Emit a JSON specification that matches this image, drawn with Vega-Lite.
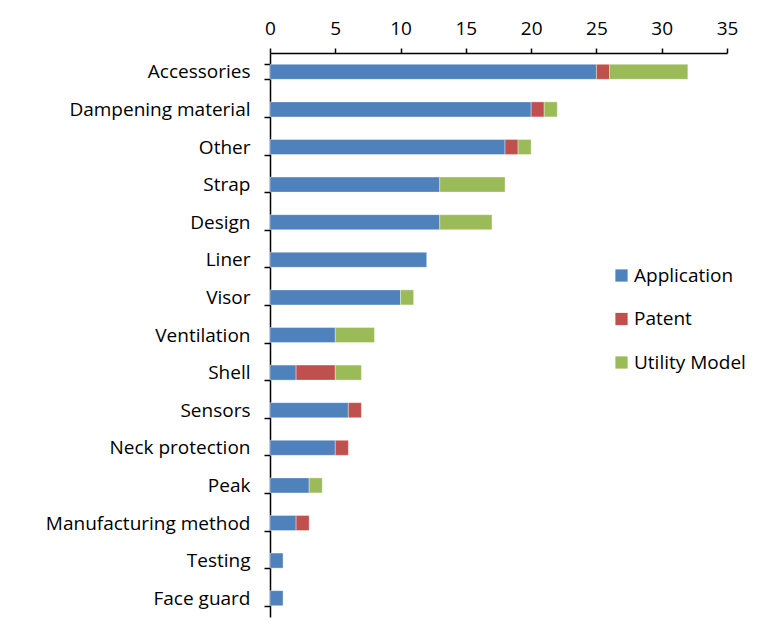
{
  "$schema": "https://vega.github.io/schema/vega-lite/v6.json",
  "width": 457,
  "height": 564,
  "autosize": {"type": "none"},
  "padding": {"left": 270, "top": 53, "right": 39, "bottom": 7},
  "background": "white",
  "config": {
    "view": {"stroke": null},
    "font": "Open Sans",
    "axis": {"labelFont": "Open Sans", "labelColor": "#000", "domainColor": "#000", "tickColor": "#000", "domainWidth": 1.5, "tickWidth": 1.5, "grid": false, "title": null, "labelLimit": 400},
    "legend": {"labelFont": "Open Sans", "labelLimit": 300}
  },
  "data": {
    "values": [
      {"category": "Accessories", "type": "Application", "count": 25},
      {"category": "Accessories", "type": "Patent", "count": 1},
      {"category": "Accessories", "type": "Utility Model", "count": 6},
      {"category": "Dampening material", "type": "Application", "count": 20},
      {"category": "Dampening material", "type": "Patent", "count": 1},
      {"category": "Dampening material", "type": "Utility Model", "count": 1},
      {"category": "Other", "type": "Application", "count": 18},
      {"category": "Other", "type": "Patent", "count": 1},
      {"category": "Other", "type": "Utility Model", "count": 1},
      {"category": "Strap", "type": "Application", "count": 13},
      {"category": "Strap", "type": "Utility Model", "count": 5},
      {"category": "Design", "type": "Application", "count": 13},
      {"category": "Design", "type": "Utility Model", "count": 4},
      {"category": "Liner", "type": "Application", "count": 12},
      {"category": "Visor", "type": "Application", "count": 10},
      {"category": "Visor", "type": "Utility Model", "count": 1},
      {"category": "Ventilation", "type": "Application", "count": 5},
      {"category": "Ventilation", "type": "Utility Model", "count": 3},
      {"category": "Shell", "type": "Application", "count": 2},
      {"category": "Shell", "type": "Patent", "count": 3},
      {"category": "Shell", "type": "Utility Model", "count": 2},
      {"category": "Sensors", "type": "Application", "count": 6},
      {"category": "Sensors", "type": "Patent", "count": 1},
      {"category": "Neck protection", "type": "Application", "count": 5},
      {"category": "Neck protection", "type": "Patent", "count": 1},
      {"category": "Peak", "type": "Application", "count": 3},
      {"category": "Peak", "type": "Utility Model", "count": 1},
      {"category": "Manufacturing method", "type": "Application", "count": 2},
      {"category": "Manufacturing method", "type": "Patent", "count": 1},
      {"category": "Testing", "type": "Application", "count": 1},
      {"category": "Face guard", "type": "Application", "count": 1}
    ]
  },
  "mark": {"type": "bar", "stroke": "white", "strokeWidth": 0.6, "strokeOpacity": 0.6},
  "encoding": {
    "y": {
      "field": "category", "type": "nominal",
      "sort": ["Accessories", "Dampening material", "Other", "Strap", "Design", "Liner", "Visor", "Ventilation", "Shell", "Sensors", "Neck protection", "Peak", "Manufacturing method", "Testing", "Face guard"],
      "scale": {"paddingInner": 0.6, "paddingOuter": 0.3},
      "axis": {"tickBand": "extent", "tickSize": 6, "labelPadding": 14, "labelFontSize": 19}
    },
    "x": {
      "field": "count", "type": "quantitative", "stack": "zero",
      "scale": {"domain": [0, 35], "nice": false},
      "axis": {"orient": "top", "values": [0, 5, 10, 15, 20, 25, 30, 35], "tickSize": 5, "labelPadding": 10, "labelFontSize": 19, "labelFlush": false}
    },
    "color": {
      "field": "type", "type": "nominal",
      "scale": {"domain": ["Application", "Patent", "Utility Model"], "range": ["#4F81BD", "#C0504D", "#9BBB59"]},
      "legend": {"title": null, "orient": "none", "legendX": 342, "legendY": 213, "symbolType": "square", "symbolSize": 150, "symbolStrokeWidth": 0, "labelFontSize": 19, "labelColor": "#000", "labelOffset": 3, "rowPadding": 23.5, "padding": 0}
    },
    "order": {"field": "type", "sort": "ascending"}
  }
}
